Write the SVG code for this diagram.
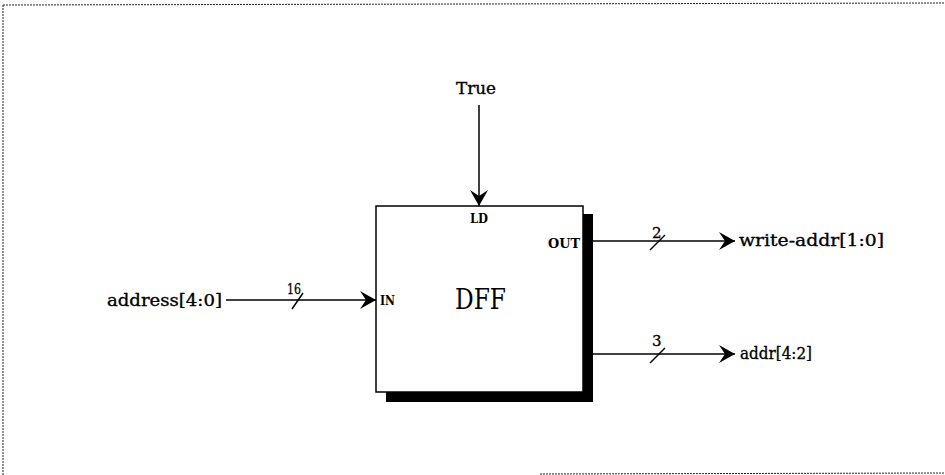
<svg xmlns="http://www.w3.org/2000/svg" width="945" height="475" viewBox="0 0 945 475">
<defs>
<style>
.border{stroke:#222;stroke-width:1;stroke-dasharray:2,1;fill:none}
.wire{stroke:#000;stroke-width:1.5;fill:none}
.lbl{font-family:"DejaVu Serif",serif;font-size:17px;fill:#000;stroke:#000;stroke-width:0.35}
.pin{font-family:"DejaVu Serif",serif;font-weight:bold;font-size:12px;fill:#000}
.big{font-family:"DejaVu Serif",serif;font-size:28px;fill:#000}
.bus{font-family:"DejaVu Serif",serif;font-size:15px;fill:#000;stroke:#000;stroke-width:0.3}
</style>
<marker id="arr" viewBox="0 0 18 20" refX="17" refY="10" markerWidth="18" markerHeight="20" markerUnits="userSpaceOnUse" orient="auto">
<path d="M17,10 L1,1 L7,10 L1,19 Z" fill="#000"/>
</marker>
</defs>
<rect width="945" height="475" fill="#fff"/>
<g id="frame">
<line class="border" x1="3" y1="5" x2="945" y2="3"/>
<line class="border" x1="3" y1="5" x2="3" y2="475"/>
<line class="border" x1="540" y1="474" x2="945" y2="473"/>
</g>
<g id="dff">
<path d="M583,214 H593 V402 H386 V392 H583 Z" fill="#000"/>
<rect x="376" y="206" width="207" height="186" fill="#fff" stroke="#000" stroke-width="1.5"/>
<text class="big" x="455" y="309" textLength="51" lengthAdjust="spacingAndGlyphs">DFF</text>
<text class="pin" x="479" y="223" text-anchor="middle" textLength="18" lengthAdjust="spacingAndGlyphs">LD</text>
<text class="pin" x="548" y="248" textLength="32" lengthAdjust="spacingAndGlyphs">OUT</text>
<text class="pin" x="380" y="305" textLength="15" lengthAdjust="spacingAndGlyphs">IN</text>
</g>
<g id="connectors">
<line class="wire" x1="479" y1="105" x2="479" y2="206" marker-end="url(#arr)"/>
<line class="wire" x1="226" y1="300" x2="376" y2="300" marker-end="url(#arr)"/>
<line class="wire" x1="292" y1="309" x2="303" y2="293"/>
<line class="wire" x1="593" y1="241" x2="735" y2="241" marker-end="url(#arr)"/>
<line class="wire" x1="650" y1="250" x2="665" y2="235"/>
<line class="wire" x1="593" y1="354" x2="735" y2="354" marker-end="url(#arr)"/>
<line class="wire" x1="650" y1="363" x2="665" y2="348"/>
</g>
<g id="labels">
<text id="true" class="lbl" x="456" y="94" textLength="40" lengthAdjust="spacingAndGlyphs">True</text>
<text id="address" class="lbl" x="107" y="306" textLength="115" lengthAdjust="spacingAndGlyphs">address[4:0]</text>
<text id="write-addr" class="lbl" x="739" y="246" textLength="145" lengthAdjust="spacingAndGlyphs">write-addr[1:0]</text>
<text id="addr" class="lbl" x="740" y="359" textLength="72" lengthAdjust="spacingAndGlyphs">addr[4:2]</text>
<text class="bus" x="287" y="294" textLength="14" lengthAdjust="spacingAndGlyphs">16</text>
<text class="bus" x="652" y="238">2</text>
<text class="bus" x="652" y="346">3</text>
</g>
</svg>
